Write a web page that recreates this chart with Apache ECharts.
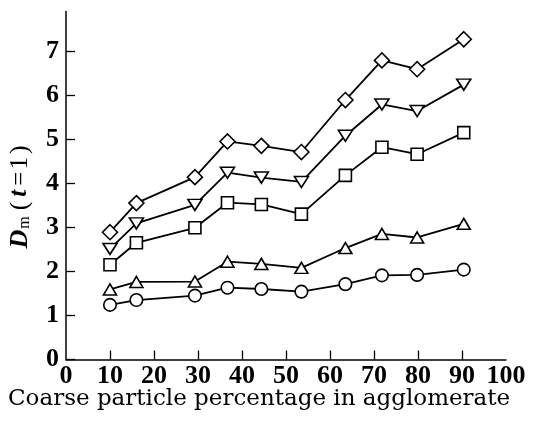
<!DOCTYPE html>
<html>
<head>
<meta charset="utf-8">
<script src="https://cdn.jsdelivr.net/npm/echarts@6/dist/echarts.min.js"></script>
<style>html,body{margin:0;padding:0;background:#fff}#c{width:535px;height:427px}</style>
</head>
<body>
<div id="c"></div>
<script>
// Data
var xs = [10, 16, 29.3, 36.7, 44.4, 53.5, 63.5, 71.8, 79.8, 90.4];
var circles   = [1.24, 1.35, 1.45, 1.63, 1.60, 1.54, 1.71, 1.91, 1.92, 2.04];
var upTris    = [1.59, 1.76, 1.77, 2.22, 2.17, 2.08, 2.53, 2.85, 2.77, 3.08];
var squares   = [2.15, 2.65, 2.99, 3.56, 3.52, 3.30, 4.18, 4.82, 4.66, 5.15];
var downTris  = [2.51, 3.09, 3.51, 4.24, 4.13, 4.03, 5.08, 5.79, 5.64, 6.24];
var diamonds  = [2.89, 3.55, 4.14, 4.95, 4.85, 4.71, 5.89, 6.79, 6.59, 7.27];
var xTickLabels = [0, 10, 20, 30, 40, 50, 60, 70, 80, 90, 100];
var xTickMarks  = [10, 20, 30, 40, 50, 60, 70, 80, 90];
var yTickLabels = [0, 1, 2, 3, 4, 5, 6, 7];
var xTitle = 'Coarse particle percentage in agglomerate';

function pairs(ys) { return xs.map(function (x, i) { return [x, ys[i]]; }); }

var serif = 'Liberation Serif';
function mk(name, ys, symbol, size, rotate) {
  return {
    name: name, type: 'line', data: pairs(ys),
    symbol: symbol, symbolSize: size, symbolRotate: rotate || 0,
    showAllSymbol: true,
    lineStyle: { color: '#000', width: 1.8 },
    itemStyle: { color: '#fff', borderColor: '#000', borderWidth: 1.6 },
    emphasis: { disabled: true },
    animation: false, z: 3
  };
}

var chart = echarts.init(document.getElementById('c'), null, { renderer: 'canvas' });
chart.setOption({
  backgroundColor: '#fff',
  animation: false,
  grid: { left: 66, right: 29, top: 11.5, bottom: 67.5, containLabel: false },
  xAxis: {
    type: 'value', min: 0, max: 100,
    axisLine: { show: true, lineStyle: { color: '#000', width: 1.5 } },
    axisTick: { show: true, inside: true, length: 9, customValues: xTickMarks, lineStyle: { color: '#000', width: 1.3 } },
    axisLabel: { customValues: xTickLabels, margin: 4, color: '#000', fontFamily: serif, fontSize: 26, fontWeight: 'bold' },
    splitLine: { show: false }
  },
  yAxis: {
    type: 'value', min: 0, max: 7.9,
    axisLine: { show: true, lineStyle: { color: '#000', width: 1.5 } },
    axisTick: { show: true, inside: true, length: 9, customValues: yTickLabels, lineStyle: { color: '#000', width: 1.3 } },
    axisLabel: { customValues: yTickLabels, margin: 7, color: '#000', fontFamily: serif, fontSize: 26, fontWeight: 'bold' },
    splitLine: { show: false }
  },
  graphic: [{
    type: 'text', left: 8, top: 388,
    style: { text: xTitle, font: '23px "DejaVu Serif"', fill: '#000' }
  }, {
    type: 'text', x: 20, y: 196, rotation: Math.PI / 2,
    style: {
      text: '{d|D}{s|m}{p|(}{i|t}{n|=}{n|1}{p|)}',
      align: 'center', verticalAlign: 'middle', fill: '#000',
      rich: {
        d: { fontFamily: serif, fontStyle: 'italic', fontWeight: 'bold', fontSize: 26, fill: '#000', padding: [0, 1, 0, 0] },
        s: { fontFamily: serif, fontSize: 16, fill: '#000', verticalAlign: 'bottom', padding: [0, 4, 0, 0] },
        p: { fontFamily: serif, fontSize: 26, fill: '#000', padding: [0, 2, 0, 2] },
        i: { fontFamily: serif, fontStyle: 'italic', fontWeight: 'bold', fontSize: 25, fill: '#000', padding: [0, 3, 0, 3] },
        n: { fontFamily: serif, fontSize: 25, fill: '#000', padding: [0, 1, 0, 1] }
      }
    }
  }],
  series: [
    mk('circle', circles, 'circle', 12.5),
    mk('up', upTris, 'triangle', [13, 11]),
    mk('square', squares, 'rect', 12),
    mk('down', downTris, 'triangle', [14, 11], 180),
    mk('diamond', diamonds, 'diamond', 15)
  ]
});
</script>
</body>
</html>
